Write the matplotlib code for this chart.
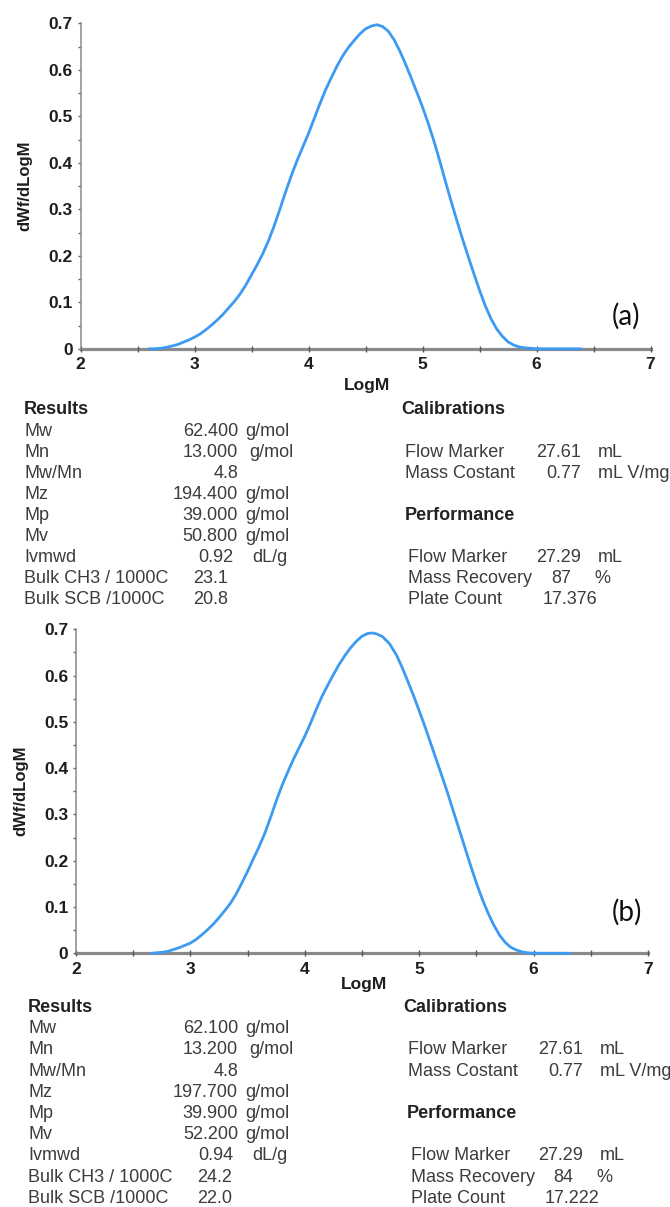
import matplotlib
matplotlib.use("Agg")
import matplotlib.pyplot as plt
from matplotlib.ticker import MultipleLocator

# ---------------- molecular weight distributions ----------------
logm_a = [2.60, 2.65, 2.70, 2.75, 2.80, 2.85, 2.90, 2.95, 3.00, 3.05,
          3.10, 3.15, 3.20, 3.25, 3.30, 3.35, 3.40, 3.45, 3.50, 3.55,
          3.60, 3.65, 3.70, 3.75, 3.80, 3.85, 3.90, 3.95, 4.00, 4.05,
          4.10, 4.15, 4.20, 4.25, 4.30, 4.35, 4.40, 4.45, 4.50, 4.55,
          4.60, 4.65, 4.70, 4.75, 4.80, 4.85, 4.90, 4.95, 5.00, 5.05,
          5.10, 5.15, 5.20, 5.25, 5.30, 5.35, 5.40, 5.45, 5.50, 5.55,
          5.60, 5.65, 5.70, 5.75, 5.80, 5.85, 5.90, 5.95, 6.00, 6.20,
          6.39]
dw_a = [0.000, 0.000, 0.001, 0.003, 0.006, 0.009, 0.014, 0.019, 0.025, 0.032,
        0.041, 0.051, 0.062, 0.074, 0.088, 0.102, 0.118, 0.137, 0.159, 0.181,
        0.205, 0.233, 0.265, 0.301, 0.338, 0.373, 0.405, 0.434, 0.463, 0.495,
        0.527, 0.557, 0.583, 0.608, 0.630, 0.648, 0.663, 0.677, 0.688, 0.694,
        0.697, 0.693, 0.683, 0.665, 0.641, 0.613, 0.583, 0.552, 0.520, 0.485,
        0.447, 0.405, 0.361, 0.318, 0.277, 0.237, 0.199, 0.162, 0.126, 0.093,
        0.065, 0.043, 0.027, 0.015, 0.008, 0.004, 0.002, 0.001, 0.000, 0.000,
        0.000]

logm_b = [2.66, 2.70, 2.75, 2.80, 2.85, 2.90, 2.95, 3.00, 3.05, 3.10,
          3.15, 3.20, 3.25, 3.30, 3.35, 3.40, 3.45, 3.50, 3.55, 3.60,
          3.65, 3.70, 3.75, 3.80, 3.85, 3.90, 3.95, 4.00, 4.05, 4.10,
          4.15, 4.20, 4.25, 4.30, 4.35, 4.40, 4.45, 4.50, 4.55, 4.59,
          4.63, 4.68, 4.74, 4.80, 4.85, 4.90, 4.95, 5.00, 5.05, 5.10,
          5.15, 5.20, 5.25, 5.30, 5.35, 5.40, 5.45, 5.50, 5.55, 5.60,
          5.65, 5.70, 5.75, 5.80, 5.85, 5.90, 5.95, 6.00, 6.32]
dw_b = [0.000, 0.001, 0.002, 0.004, 0.008, 0.012, 0.017, 0.022, 0.030, 0.040,
        0.051, 0.063, 0.077, 0.092, 0.108, 0.128, 0.152, 0.177, 0.204, 0.230,
        0.259, 0.293, 0.329, 0.362, 0.391, 0.419, 0.444, 0.469, 0.497, 0.527,
        0.555, 0.579, 0.602, 0.624, 0.643, 0.660, 0.674, 0.685, 0.691, 0.692,
        0.690, 0.684, 0.669, 0.645, 0.618, 0.588, 0.557, 0.524, 0.490, 0.454,
        0.418, 0.382, 0.345, 0.306, 0.267, 0.228, 0.189, 0.152, 0.118, 0.088,
        0.062, 0.040, 0.024, 0.013, 0.007, 0.003, 0.001, 0.000, 0.000]

# ---------------- report tables ----------------
result_names = ["Mw", "Mn", "Mw/Mn", "Mz", "Mp", "Mv", "Ivmwd",
                "Bulk CH3 / 1000C", "Bulk SCB /1000C"]
result_units = ["g/mol", "g/mol", "", "g/mol", "g/mol", "g/mol", "dL/g", "", ""]
results_a = ["62.400", "13.000", "4.8", "194.400", "39.000", "50.800",
             "0.92", "23.1", "20.8"]
results_b = ["62.100", "13.200", "4.8", "197.700", "39.900", "52.200",
             "0.94", "24.2", "22.0"]

calib_names = ["Flow Marker", "Mass Costant"]
calib_values = ["27.61", "0.77"]
calib_units = ["mL", "mL V/mg"]

perf_names = ["Flow Marker", "Mass Recovery", "Plate Count"]
perf_units = ["mL", "%", ""]
perf_a = ["27.29", "87", "17.376"]
perf_b = ["27.29", "84", "17.222"]

panel_tags = ["(a)", "(b)"]

# ---------------- figure ----------------
W, H = 670, 1207
fig = plt.figure(figsize=(W / 100, H / 100), dpi=100)
fig.patch.set_facecolor("white")

SANS = "Liberation Sans"
CURVE = "#3d9af2"
AXIS_GREY = "#8a8a8a"
TXT = "#3c3c3c"


def fx(x):
    return x / W


def fy(y):
    return 1 - y / H


def put(x, y, s, **kw):
    kw.setdefault("family", SANS)
    kw.setdefault("fontsize", 13)
    kw.setdefault("color", TXT)
    kw.setdefault("va", "center")
    fig.text(fx(x), fy(y), s, **kw)


def make_axes(left, right, top, bottom, xs, ys):
    ax = fig.add_axes([fx(left), fy(bottom), fx(right) - fx(left), (bottom - top) / H])
    ax.plot(xs, ys, color=CURVE, lw=2.0, zorder=5, clip_on=False,
            solid_capstyle="round", solid_joinstyle="round")
    ax.set_xlim(2, 7)
    ax.set_ylim(0, 0.7)
    for s in ("top", "right"):
        ax.spines[s].set_visible(False)
    ax.spines["bottom"].set_color(AXIS_GREY)
    ax.spines["bottom"].set_linewidth(2.3)
    ax.spines["left"].set_color(AXIS_GREY)
    ax.spines["left"].set_linewidth(1.1)
    ax.spines["bottom"].set_zorder(1)
    ax.xaxis.set_major_locator(MultipleLocator(1))
    ax.xaxis.set_minor_locator(MultipleLocator(0.5))
    ax.yaxis.set_major_locator(MultipleLocator(0.1))
    ax.yaxis.set_minor_locator(MultipleLocator(0.05))
    ax.tick_params(axis="x", which="both", direction="inout", length=4,
                   width=1.0, color="#555555", pad=4)
    ax.tick_params(axis="y", which="both", direction="out", length=2.5,
                   width=1.0, color="#666666", pad=3)
    ax.set_yticks([0, 0.1, 0.2, 0.3, 0.4, 0.5, 0.6, 0.7])
    ax.set_yticklabels(["0", "0.1", "0.2", "0.3", "0.4", "0.5", "0.6", "0.7"])
    for lab in ax.get_xticklabels() + ax.get_yticklabels():
        lab.set_fontfamily(SANS)
        lab.set_fontweight("bold")
        lab.set_fontsize(12.5)
        lab.set_color("#1e1e1e")
    ax.patch.set_alpha(0)
    return ax


def panel(ax_box, xs, ys, tag, tag_xy, xlabel_xy, ylabel_xy,
          top_row, row_h, res_vals, perf_vals, xcols):
    left, right, top, bottom = ax_box
    make_axes(left, right, top, bottom, xs, ys)
    put(*tag_xy, tag, family="Lato", fontsize=20, color="#111111", ha="center")
    put(*xlabel_xy, "LogM", fontweight="bold", fontsize=12.5, color="#1e1e1e",
        ha="center")
    put(*ylabel_xy, "dWf/dLogM", fontweight="bold", fontsize=12,
        color="#1e1e1e", ha="center", rotation=90)

    (name_x, val_r, unit_x, alt_val_x,
     hdr_x, rname_x, rval_r, runit_x) = xcols

    # Results block
    put(name_x, top_row, "Results", fontweight="bold", color="#222222")
    for i, (n, v, u) in enumerate(zip(result_names, res_vals, result_units)):
        y = top_row + (i + 1) * row_h
        put(name_x, y, n)
        if i >= 7:
            put(alt_val_x, y, v, ha="left")
        elif i == 6:
            put(val_r - 5, y, v, ha="right")
            put(unit_x + 7, y, u)
        else:
            put(val_r, y, v, ha="right")
            put(unit_x + (4 if i == 1 else 0), y, u)

    # Calibrations block
    put(hdr_x, top_row, "Calibrations", fontweight="bold", color="#222222")
    for i, (n, v, u) in enumerate(zip(calib_names, calib_values, calib_units)):
        y = top_row + (i + 2) * row_h
        put(rname_x, y, n)
        put(rval_r, y, v, ha="right")
        put(runit_x, y, u)

    # Performance block
    put(hdr_x + 4, top_row + 5 * row_h, "Performance", fontweight="bold",
        color="#222222")
    for i, (n, v, u) in enumerate(zip(perf_names, perf_vals, perf_units)):
        y = top_row + (i + 7) * row_h
        put(rname_x + 3, y, n)
        if i == 0:
            put(rval_r, y, v, ha="right")
            put(runit_x, y, u)
        elif i == 1:
            put(rval_r - 10, y, v, ha="right")
            put(runit_x - 4, y, u)
        else:
            put(rval_r - 38, y, v, ha="left")


panel((80.5, 650.5, 23.3, 348.8), logm_a, dw_a, panel_tags[0],
      (626, 316), (367, 385), (25, 186),
      410, 21.1, results_a, perf_a,
      (24, 238, 245, 193, 401, 405, 581, 598))

panel((76.0, 648.0, 629.3, 953.3), logm_b, dw_b, panel_tags[1],
      (627, 912), (364, 985), (21, 791),
      1007.5, 21.2, results_b, perf_b,
      (28, 238, 245, 197, 403, 408, 583, 600))

fig.savefig("out.png", dpi=100, facecolor="white")
